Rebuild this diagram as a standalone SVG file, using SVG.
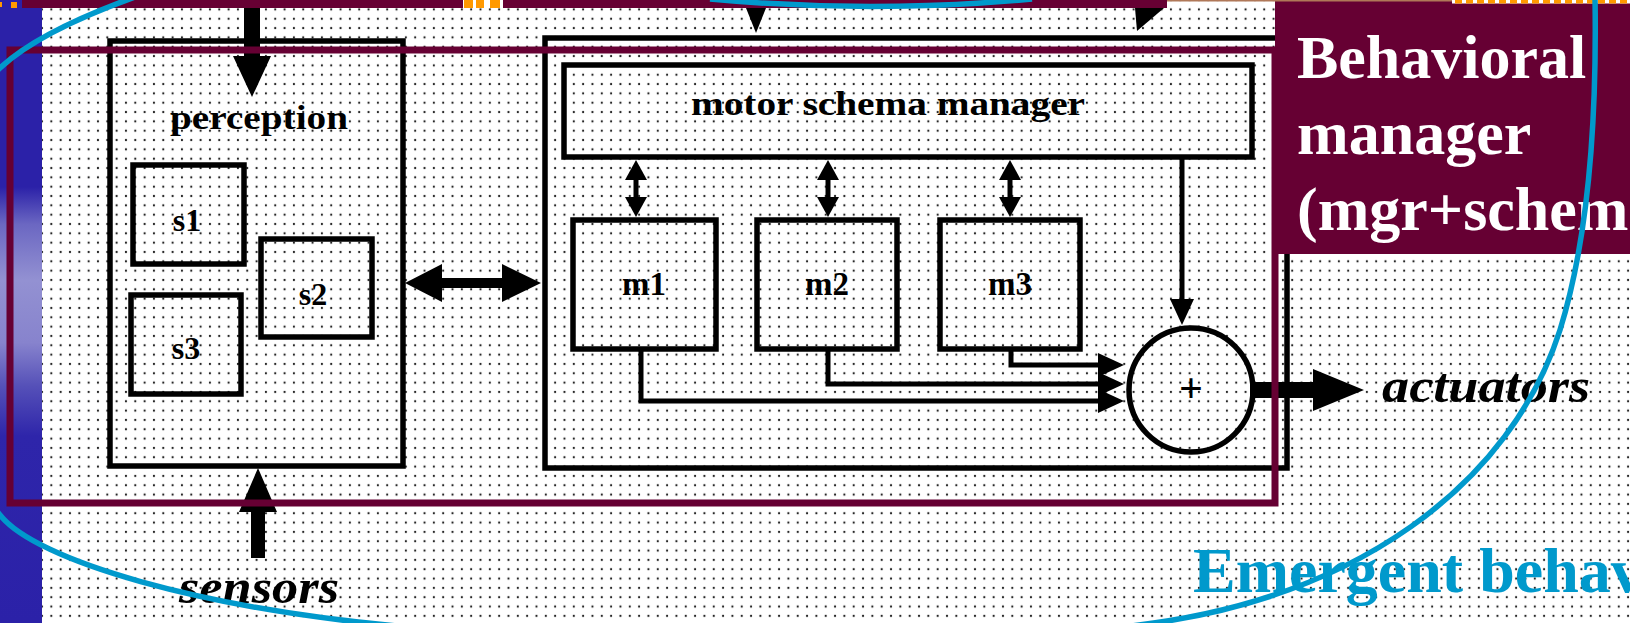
<svg xmlns="http://www.w3.org/2000/svg" width="1630" height="623" viewBox="0 0 1630 623">
<style>
.ln{fill:none;stroke:#000;stroke-width:5.5}
.ar{fill:none;stroke:#000;stroke-width:5}
.blk{fill:#000}
.lbl{font-family:"Liberation Serif","Times New Roman",serif;font-weight:bold;fill:#000;text-anchor:middle}
.it{font-family:"Liberation Serif","Times New Roman",serif;font-weight:bold;font-style:italic;fill:#000}
.wt{font-family:"Liberation Serif","Times New Roman",serif;font-weight:bold;fill:#fff;font-size:62px}
.mar{fill:none;stroke:#660033;stroke-width:7}
.blue{fill:none;stroke:#0099CC;stroke-width:5.5}
</style>
<defs>
<pattern id="dots" x="0" y="-4.6" width="9.33" height="9.33" patternUnits="userSpaceOnUse">
<circle cx="4.67" cy="4.67" r="1.1" fill="#222"/>
</pattern>
<linearGradient id="strip" x1="0" y1="0" x2="0" y2="1">
<stop offset="0" stop-color="#2B21A8"/>
<stop offset="0.30" stop-color="#2B21A8"/>
<stop offset="0.36" stop-color="#6B67C2"/>
<stop offset="0.45" stop-color="#9391D2"/>
<stop offset="0.55" stop-color="#8783CD"/>
<stop offset="0.62" stop-color="#5550B8"/>
<stop offset="0.70" stop-color="#2E25AA"/>
<stop offset="1" stop-color="#2B21A8"/>
</linearGradient>
<marker id="ah" markerUnits="userSpaceOnUse" markerWidth="26" markerHeight="24" refX="14" refY="12" orient="auto-start-reverse">
<path d="M0,0 L26,12 L0,24 z" fill="#000"/>
</marker>
<marker id="ahs" markerUnits="userSpaceOnUse" markerWidth="20" markerHeight="22" refX="9" refY="11" orient="auto-start-reverse">
<path d="M0,0 L20,11 L0,22 z" fill="#000"/>
</marker>
</defs>

<g id="background">
<rect x="0" y="0" width="1630" height="623" fill="#fff"/>
<rect x="42" y="0" width="1588" height="623" fill="url(#dots)"/>
<rect x="0" y="0" width="42" height="623" fill="url(#strip)"/>
</g>

<g id="perception">
<rect class="ln" x="110" y="41" width="293" height="425"/>
<text class="lbl" x="259" y="129" font-size="34" textLength="178" lengthAdjust="spacingAndGlyphs">perception</text>
</g>
<g id="s1">
<rect class="ln" x="133" y="165" width="111" height="99"/>
<text class="lbl" x="187" y="231" font-size="32">s1</text>
</g>
<g id="s2">
<rect class="ln" x="261" y="239" width="111" height="98"/>
<text class="lbl" x="313" y="305" font-size="32">s2</text>
</g>
<g id="s3">
<rect class="ln" x="131" y="295" width="110" height="99"/>
<text class="lbl" x="186" y="359" font-size="32">s3</text>
</g>

<g id="motor-box">
<rect class="ln" x="545" y="38" width="742" height="430"/>
</g>
<g id="motor-schema-manager">
<rect class="ln" x="564" y="65" width="688" height="92"/>
<text class="lbl" x="888" y="115" font-size="34" textLength="394" lengthAdjust="spacingAndGlyphs">motor schema manager</text>
</g>
<g id="m1">
<rect class="ln" x="573" y="220" width="143" height="129"/>
<text class="lbl" x="644" y="295" font-size="33">m1</text>
</g>
<g id="m2">
<rect class="ln" x="757" y="220" width="140" height="129"/>
<text class="lbl" x="827" y="295" font-size="33">m2</text>
</g>
<g id="m3">
<rect class="ln" x="940" y="220" width="140" height="129"/>
<text class="lbl" x="1010" y="295" font-size="33">m3</text>
</g>
<g id="sum">
<circle class="ln" cx="1191" cy="390" r="62"/>
<text x="1191" y="402" font-family="Liberation Serif, serif" font-weight="bold" font-size="42" text-anchor="middle" fill="#000">+</text>
</g>
<g id="sensors">
<text class="it" x="179" y="603" font-size="48" textLength="160" lengthAdjust="spacingAndGlyphs">sensors</text>
</g>
<g id="actuators">
<text class="it" x="1382" y="402" font-size="48" textLength="208" lengthAdjust="spacingAndGlyphs">actuators</text>
</g>

<g id="connectors">
<polygon class="blk" points="244,8 260,8 260,56 271,56 252,97 233,56 244,56"/>
<polygon class="blk" points="258,468 277,512 265,512 265,558 251,558 251,512 239,512"/>
<polygon class="blk" points="405,283 442,264 442,278 502,278 502,264 541,283 502,302 502,288 442,288 442,302"/>
<polygon class="blk" points="746,8 766,8 756,33"/>
<polygon class="blk" points="1135,8 1164,8 1137,31"/>
<path class="ar" d="M636 171 V206" marker-start="url(#ahs)" marker-end="url(#ahs)"/>
<path class="ar" d="M828 171 V206" marker-start="url(#ahs)" marker-end="url(#ahs)"/>
<path class="ar" d="M1010 171 V206" marker-start="url(#ahs)" marker-end="url(#ahs)"/>
<path class="ar" d="M1182 157 V313" marker-end="url(#ah)"/>
<path class="ar" d="M641 349 V401 H1112" marker-end="url(#ah)"/>
<path class="ar" d="M828 349 V384 H1112" marker-end="url(#ah)"/>
<path class="ar" d="M1011 349 V365 H1112" marker-end="url(#ah)"/>
<polygon class="blk" points="1250,382 1313,382 1313,369 1364,390 1313,411 1313,398 1250,398"/>
</g>

<g id="behavioral-manager">
<rect class="mar" x="10" y="50" width="1265" height="453"/>
<rect x="1275" y="0" width="355" height="254" fill="#660033"/>
<text class="wt" x="1297" y="78">Behavioral</text>
<text class="wt" x="1297" y="154">manager</text>
<text class="wt" x="1297" y="230">(mgr+schem</text>
</g>

<g id="top-bar">
<rect x="22" y="0" width="441" height="8" fill="#660033"/>
<rect x="463" y="0" width="40" height="8" fill="#fff"/>
<rect x="464" y="0" width="9" height="8" fill="#FF9900"/>
<rect x="476" y="0" width="8" height="8" fill="#FF9900"/>
<rect x="490" y="0" width="10" height="8" fill="#FF9900"/>
<rect x="503" y="0" width="664" height="8" fill="#660033"/>
<rect x="1167" y="0" width="285" height="1.5" fill="#B07858"/>
<rect x="1452" y="0" width="178" height="3.5" fill="#fff"/>
<line x1="1455" y1="1.7" x2="1630" y2="1.7" stroke="#FF9900" stroke-width="3.5" stroke-dasharray="7 4"/>
<rect x="0" y="2" width="2" height="5" fill="#FF9900"/>
<rect x="11" y="2" width="6" height="6" fill="#FF9900"/>
</g>

<g id="emergent-behavior">
<path class="blue" d="M135 -3 C85 15 30 40 0 68 C-30 96 -65 190 -60 300 C-55 410 -35 470 0 515 C35 560 200 610 420 628"/>
<path class="blue" d="M710 -1 Q870 14 1032 -1"/>
<path class="blue" d="M1112 628 C1360 605 1512 480 1560 330 C1588 240 1597 120 1595 -3"/>
<text x="1193" y="592" font-family="Liberation Serif, Times New Roman, serif" font-weight="bold" font-size="64" fill="#0099CC">Emergent behav</text>
</g>
</svg>
